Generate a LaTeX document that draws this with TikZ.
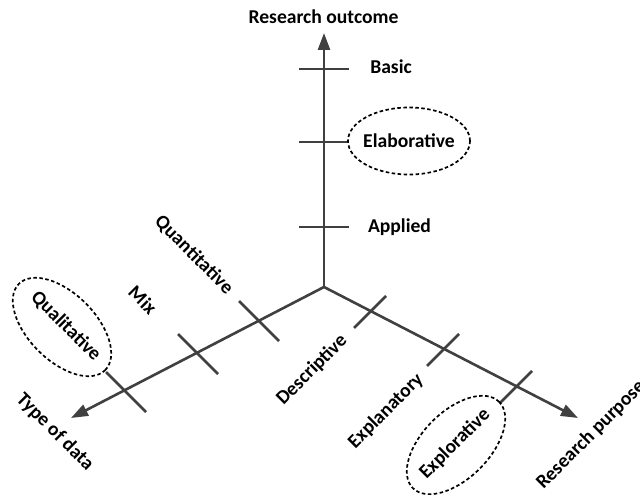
\documentclass[tikz,border=0pt]{standalone}
\usepackage{fontspec}
\setmainfont{Carlito}
\usetikzlibrary{arrows.meta,shapes.geometric}
\definecolor{axisgray}{HTML}{404040}
\begin{document}
\begin{tikzpicture}[x=1pt,y=-1pt,
  axis/.style={draw=axisgray,line width=2.6pt,-{Triangle[length=17pt,width=12pt]}},
  tickmark/.style={draw=axisgray,line width=2.6pt},
  lbl/.style={font=\fontsize{19.6}{22}\selectfont\bfseries,inner sep=0pt},
  ring/.style={draw=black,ellipse,line width=1.7pt,dash pattern=on 3.5pt off 2.5pt,
    minimum width=122pt,minimum height=67pt,inner sep=0pt}]
\useasboundingbox (0,0) rectangle (640,495);

% origin and axis ends
\coordinate (O) at (324,287);
\coordinate (top) at (324,33);
\coordinate (left) at (71,418);
\coordinate (right) at (578,418);

% axes
\draw[axis] (O) -- (top);
\draw[axis] (O) -- (left);
\draw[axis] (O) -- (right);

% ticks on the vertical axis
\coordinate (vb) at (324,69);
\coordinate (ve) at (324,142);
\coordinate (va) at (324,227);
\foreach \t in {vb,ve,va}
  \draw[tickmark] (\t) ++(-25,0) -- ++(50,0);

% ticks on the data axis
\coordinate (l1) at (259,321);
\coordinate (l2) at (198,354);
\coordinate (l3) at (126,392);
\foreach \t in {l1,l2,l3}
  \draw[tickmark] (\t) ++(-20,-20) -- ++(40,40);

% ticks on the purpose axis
\coordinate (r1) at (370,312);
\coordinate (r2) at (443,350);
\coordinate (r3) at (516,387);
\foreach \t in {r1,r2,r3}
  \draw[tickmark] (\t) ++(-16,16) -- ++(32,-32);

% axis titles
\node[lbl] (outcome) at (323.5,17) {Research outcome};
\node[lbl,rotate=-45] (datatype) at (55,432) {Type of data};
\node[lbl,rotate=45] (purpose) at (591,435) {Research purpose};

% research outcome levels
\node[lbl,anchor=base] (basic) at (391,74) {Basic};
\node[ring] (elabring) at (409,141) {};
\node[lbl,anchor=base] (elab) at (409,147) {Elaborative};
\node[lbl,anchor=base] (applied) at (399.5,232) {Applied};

% data types
\node[lbl,rotate=-45] (quant) at (194,255) {Quantitative};
\node[lbl,rotate=-45] (mix) at (143,300) {Mix};
\node[ring,rotate=-45] (qualring) at (62,327) {};
\node[lbl,rotate=-45] (qual) at (66,326) {Qualitative};

% research purposes
\node[lbl,rotate=45] (descr) at (312,370) {Descriptive};
\node[lbl,rotate=45] (explan) at (386,411) {Explanatory};
\node[ring,rotate=45] (explorring) at (456,445) {};
\node[lbl,rotate=45] (explor) at (455,444) {Explorative};
\end{tikzpicture}
\end{document}
